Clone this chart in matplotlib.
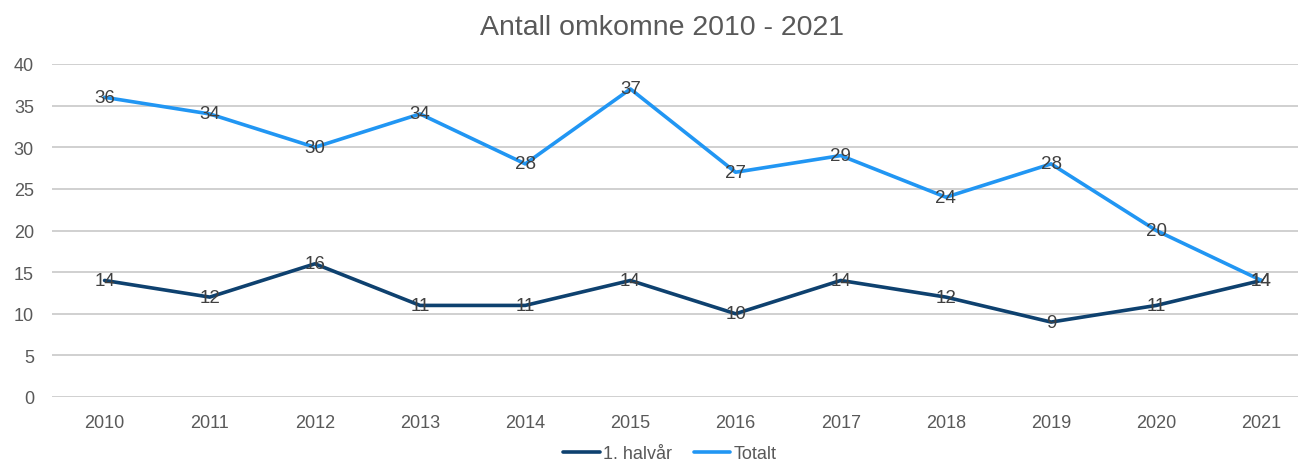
import matplotlib.pyplot as plt

# Data
years = ['2010', '2011', '2012', '2013', '2014', '2015',
         '2016', '2017', '2018', '2019', '2020', '2021']
first_half = [14, 12, 16, 11, 11, 14, 10, 14, 12, 9, 11, 14]
total = [36, 34, 30, 34, 28, 37, 27, 29, 24, 28, 20, 14]

plt.rcParams['font.family'] = ['Liberation Sans', 'DejaVu Sans']
text_color = '#595959'

fig = plt.figure(figsize=(12.98, 4.64), dpi=100)
W, H = 1298, 464
ax = fig.add_axes([52 / W, (H - 398) / H, 1262 / W, (398 - 65) / H])

x = range(len(years))
ax.plot(x, first_half, color='#0E416F', lw=2.6, label='1. halvår', solid_capstyle='round')
ax.plot(x, total, color='#2196F3', lw=2.6, label='Totalt', solid_capstyle='round')

# Data labels, centred on the points
for xi, v in zip(x, first_half):
    ax.text(xi, v, str(v), ha='center', va='center', fontsize=13.5, color='#404040')
for xi, v in zip(x, total):
    ax.text(xi, v, str(v), ha='center', va='center', fontsize=13.5, color='#404040')

ax.set_xlim(-0.5, 11.5)
ax.set_ylim(0, 40)
ax.set_yticks(range(0, 41, 5))
ax.set_xticks(list(x))
ax.set_xticklabels(years)
ax.yaxis.grid(True, color='#C8C8C8', lw=1.2)
ax.set_axisbelow(True)
for s in ax.spines.values():
    s.set_visible(False)
ax.tick_params(length=0, labelsize=13, colors=text_color)
ax.tick_params(axis='x', pad=12)
ax.tick_params(axis='y', pad=13)

fig.text(662 / W, 1 - 28 / H, 'Antall omkomne 2010 - 2021', ha='center', va='center',
         fontsize=20.5, color=text_color)

fig.legend(loc='center', bbox_to_anchor=(670 / W, 1 - 455 / H), ncol=2, frameon=False,
           fontsize=13, handlelength=2.0, handletextpad=0.2, columnspacing=1.2,
           labelcolor=text_color)

fig.savefig('out.png', dpi=100)
